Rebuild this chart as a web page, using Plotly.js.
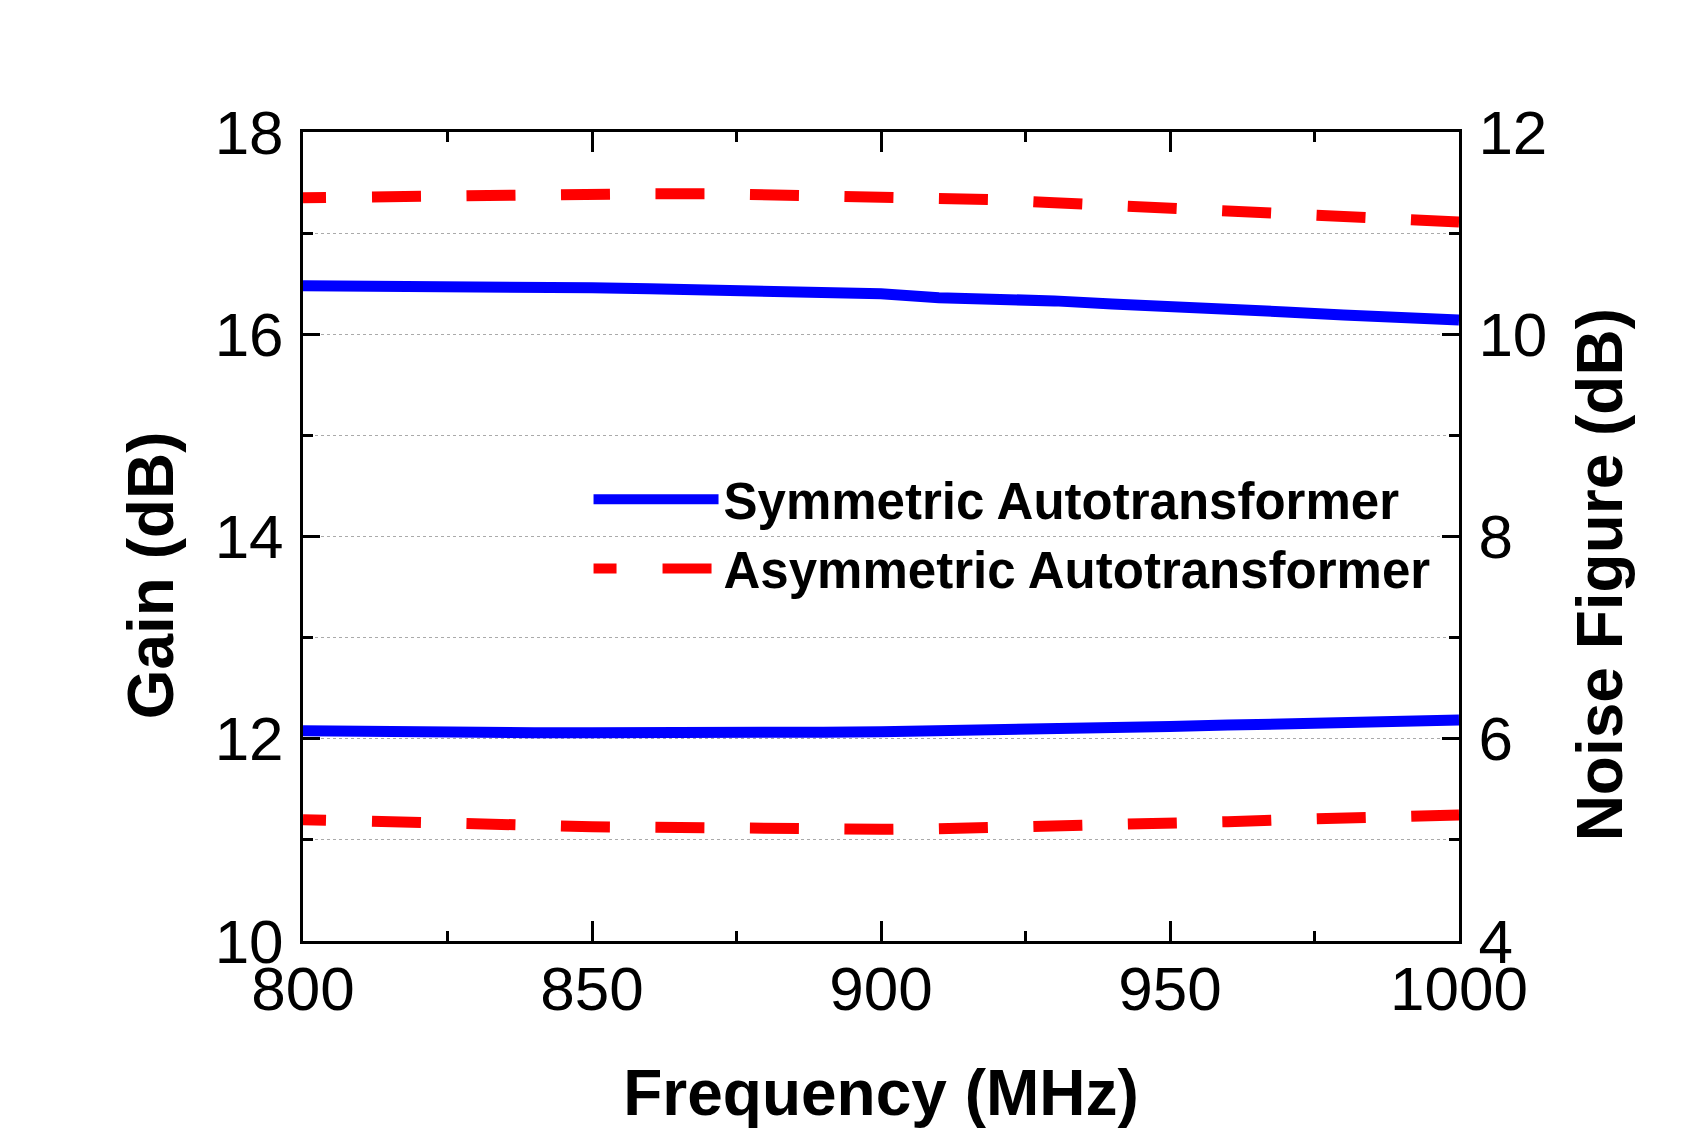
<!DOCTYPE html>
<html>
<head>
<meta charset="utf-8">
<script src="https://cdn.plot.ly/plotly-3.0.1.min.js"></script>
<style>html,body{margin:0;padding:0;background:#fff;}#chart{width:1695px;height:1129px;}</style>
</head>
<body>
<div id="chart"></div>
<script>
// Frequency (MHz)
const freq = [800, 810, 820, 830, 840, 850, 860, 870, 880, 890, 900, 910, 920, 930, 940, 950, 960, 970, 980, 990, 1000];
// Gain (dB)
const gainSym  = [16.48, 16.48, 16.47, 16.47, 16.46, 16.46, 16.45, 16.44, 16.43, 16.41, 16.40, 16.36, 16.35, 16.33, 16.30, 16.28, 16.25, 16.22, 16.19, 16.16, 16.14];
const gainAsym = [17.35, 17.36, 17.37, 17.38, 17.38, 17.39, 17.39, 17.39, 17.38, 17.37, 17.36, 17.35, 17.33, 17.30, 17.27, 17.25, 17.22, 17.20, 17.17, 17.14, 17.11];
// Noise Figure (dB)
const nfSym  = [6.08, 6.07, 6.06, 6.06, 6.06, 6.06, 6.055, 6.055, 6.06, 6.065, 6.07, 6.075, 6.09, 6.10, 6.11, 6.12, 6.135, 6.15, 6.16, 6.17, 6.185];
const nfAsym = [5.20, 5.18, 5.17, 5.16, 5.145, 5.13, 5.12, 5.11, 5.108, 5.105, 5.105, 5.11, 5.12, 5.13, 5.15, 5.165, 5.18, 5.20, 5.21, 5.23, 5.245];

const seriesNames = ['Symmetric Autotransformer', 'Asymmetric Autotransformer'];
const xTickVals = [800, 850, 900, 950, 1000];
const gainTickVals = [10, 12, 14, 16, 18];
const nfTickVals = [4, 6, 8, 10, 12];
const xTitle = 'Frequency (MHz)';
const gainTitle = 'Gain (dB)';
const nfTitle = 'Noise Figure (dB)';

const FONT = '"Liberation Sans", Arial, sans-serif';
const blue = '#0000ff';
const red = '#ff0000';
// dash pattern: short first piece then regular 49px dashes with 45.5px gaps
let dashParts = ['23px', '46px'];
for (let i = 0; i < 14; i++) { dashParts.push('49px', '45.5px'); }
const dashPat = dashParts.join(',');

const traces = [
  {x: freq, y: gainSym, name: seriesNames[0], legendgroup: 's', mode: 'lines', line: {color: blue, width: 11}, yaxis: 'y'},
  {x: freq, y: gainAsym, name: seriesNames[1], legendgroup: 'a', mode: 'lines', line: {color: red, width: 11, dash: dashPat}, yaxis: 'y'},
  {x: freq, y: nfSym, name: seriesNames[0], legendgroup: 's', showlegend: false, mode: 'lines', line: {color: blue, width: 11}, yaxis: 'y2'},
  {x: freq, y: nfAsym, name: seriesNames[1], legendgroup: 'a', showlegend: false, mode: 'lines', line: {color: red, width: 11, dash: dashPat}, yaxis: 'y2'}
];

const tickFont = {family: FONT, size: 62, color: '#000'};
const titleFont = {family: FONT, size: 64, color: '#000', weight: 'bold'};

const layout = {
  width: 1695, height: 1129,
  paper_bgcolor: '#fff', plot_bgcolor: '#fff',
  margin: {l: 303, r: 236, t: 132, b: 188, pad: 0},
  hovermode: false,
  showlegend: true,
  legend: {
    x: 0.247, y: 0.595, xanchor: 'left', yanchor: 'top',
    bgcolor: 'rgba(0,0,0,0)', borderwidth: 0,
    font: {family: FONT, size: 51, color: '#000', weight: 'bold'},
    itemwidth: 125, tracegroupgap: 0
  },
  xaxis: {
    range: [800, 1000], tickvals: xTickVals, ticktext: xTickVals.map(String),
    ticks: 'inside', ticklen: 20, tickwidth: 3, tickcolor: '#000',
    minor: {dtick: 25, ticks: 'inside', ticklen: 10, tickwidth: 3, tickcolor: '#000', showgrid: false},
    showline: true, linewidth: 3, linecolor: '#000', mirror: 'ticks',
    showgrid: false, zeroline: false,
    tickfont: tickFont, ticklabelstandoff: -8,
    title: {text: xTitle, font: titleFont, standoff: 54}
  },
  yaxis: {
    range: [10, 18], tickvals: gainTickVals, ticktext: gainTickVals.map(String),
    ticks: 'inside', ticklen: 17, tickwidth: 3, tickcolor: '#000',
    minor: {dtick: 1, ticks: 'inside', ticklen: 10, tickwidth: 3, tickcolor: '#000', showgrid: true, gridcolor: '#aaaaaa', gridwidth: 1, griddash: 'dot'},
    showline: true, linewidth: 3, linecolor: '#000', mirror: false,
    showgrid: true, gridcolor: '#aaaaaa', gridwidth: 1, griddash: 'dot', zeroline: false,
    tickfont: tickFont, ticklabelstandoff: 4
  },
  yaxis2: {
    range: [4, 12], tickvals: nfTickVals, ticktext: nfTickVals.map(String),
    overlaying: 'y', side: 'right',
    ticks: 'inside', ticklen: 17, tickwidth: 3, tickcolor: '#000',
    minor: {dtick: 1, ticks: 'inside', ticklen: 10, tickwidth: 3, tickcolor: '#000', showgrid: false},
    showline: true, linewidth: 3, linecolor: '#000',
    showgrid: false, zeroline: false,
    tickfont: tickFont, ticklabelstandoff: 4
  },
  annotations: [
    {text: gainTitle, xref: 'paper', yref: 'paper', x: -0.1315, y: 0.452, xanchor: 'center', yanchor: 'middle',
     textangle: -90, showarrow: false, font: titleFont},
    {text: nfTitle, xref: 'paper', yref: 'paper', x: 1.122, y: 0.452, xanchor: 'center', yanchor: 'middle',
     textangle: -90, showarrow: false, font: titleFont}
  ]
};

Plotly.newPlot('chart', traces, layout, {displayModeBar: false, staticPlot: true});
</script>
</body>
</html>
